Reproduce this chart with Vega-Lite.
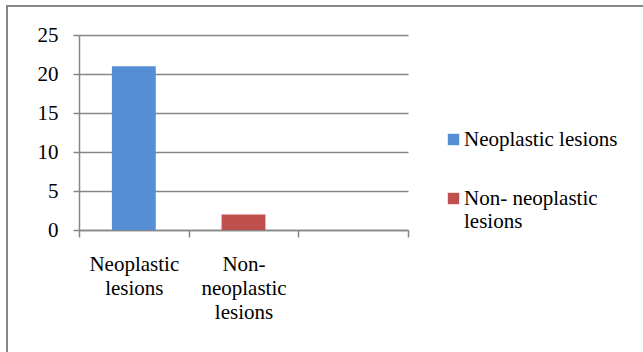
{
  "$schema": "https://vega.github.io/schema/vega-lite/v6.json",
  "width": 639,
  "height": 349,
  "autosize": {"type": "none"},
  "padding": {"left": 7, "top": 6, "right": -3, "bottom": -3},
  "background": "white",
  "config": {
    "view": {"stroke": "#878787", "strokeWidth": 2},
    "font": "Liberation Serif"
  },
  "data": {
    "values": [
      {"category": "Neoplastic lesions", "series": "Neoplastic lesions", "count": 21},
      {"category": "Non-neoplastic lesions", "series": "Non- neoplastic lesions", "count": 2}
    ]
  },
  "mark": {"type": "bar", "width": {"band": 0.4}},
  "encoding": {
    "x": {
      "field": "category",
      "type": "nominal",
      "sort": null,
      "scale": {
        "domain": ["Neoplastic lesions", "Non-neoplastic lesions", "blank"],
        "range": [72, 401],
        "paddingInner": 0,
        "paddingOuter": 0
      },
      "axis": {
        "title": null,
        "offset": -125,
        "labelAngle": 0,
        "tickBand": "extent",
        "grid": false,
        "domainColor": "#868686",
        "domainWidth": 1.5,
        "tickColor": "#868686",
        "tickWidth": 1.5,
        "tickSize": 7,
        "labelFont": "Liberation Serif",
        "labelFontSize": 21,
        "labelColor": "black",
        "labelPadding": 16,
        "labelLineHeight": 24,
        "labelBaseline": "top",
        "labelExpr": "datum.value == 'Neoplastic lesions' ? ['Neoplastic', 'lesions'] : datum.value == 'Non-neoplastic lesions' ? ['Non-', 'neoplastic', 'lesions'] : ''"
      }
    },
    "y": {
      "field": "count",
      "type": "quantitative",
      "scale": {"domain": [0, 25], "nice": false, "range": [224, 29]},
      "axis": {
        "title": null,
        "offset": -72,
        "values": [0, 5, 10, 15, 20, 25],
        "grid": true,
        "gridColor": "#868686",
        "gridWidth": 1.5,
        "domainColor": "#868686",
        "domainWidth": 1.5,
        "tickColor": "#868686",
        "tickWidth": 1.5,
        "tickSize": 6,
        "labelFont": "Liberation Serif",
        "labelFontSize": 21,
        "labelColor": "black",
        "labelPadding": 15
      }
    },
    "color": {
      "field": "series",
      "type": "nominal",
      "scale": {
        "domain": ["Neoplastic lesions", "Non- neoplastic lesions"],
        "range": ["#558ed5", "#c0504d"]
      },
      "legend": {
        "title": null,
        "orient": "none",
        "legendX": 436,
        "legendY": 123,
        "padding": 0,
        "symbolType": "square",
        "symbolSize": 130,
        "symbolStrokeWidth": 0,
        "labelFont": "Liberation Serif",
        "labelFontSize": 21,
        "labelColor": "black",
        "labelOffset": 0,
        "labelLimit": 300,
        "labelBaseline": "top",
        "labelLineHeight": 25,
        "rowPadding": 38,
        "labelExpr": "datum.value == 'Non- neoplastic lesions' ? ['Non- neoplastic', 'lesions'] : datum.value",
        "encode": {"labels": {"update": {"dy": {"value": -10.5}}}}
      }
    }
  }
}
